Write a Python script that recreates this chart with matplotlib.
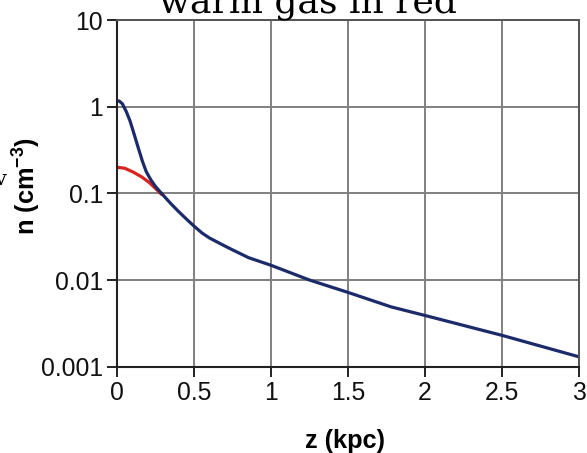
import matplotlib.pyplot as plt
from matplotlib.ticker import FixedLocator, NullLocator

# data
z_warm = [0.0, 0.05, 0.105, 0.16, 0.21, 0.25, 0.29]
n_warm = [0.20, 0.195, 0.176, 0.155, 0.133, 0.114, 0.097]

z_total = [0.0, 0.015, 0.035, 0.06, 0.084, 0.11, 0.137, 0.165, 0.19, 0.22, 0.25,
           0.298, 0.35, 0.4, 0.45, 0.5, 0.553, 0.6, 0.683, 0.75, 0.855, 1.0, 1.25,
           1.5, 1.78, 2.0, 2.5, 3.0]
n_total = [1.17, 1.16, 1.08, 0.88, 0.69, 0.49, 0.34, 0.235, 0.178, 0.143, 0.12,
           0.096, 0.076, 0.0617, 0.0507, 0.0419, 0.0348, 0.0306, 0.0256, 0.0223, 0.0181,
           0.0148, 0.010, 0.0072, 0.0049, 0.0039, 0.0023, 0.0013]

x_ticks = [0, 0.5, 1, 1.5, 2, 2.5, 3]
x_labels = ["0", "0.5", "1", "1.5", "2", "2.5", "3"]
y_ticks = [0.001, 0.01, 0.1, 1, 10]
y_labels = ["0.001", "0.01", "0.1", "1", "10"]

plt.rcParams['font.family'] = ['Liberation Sans', 'DejaVu Sans']
plt.rcParams['mathtext.fontset'] = 'custom'
plt.rcParams['mathtext.rm'] = 'Liberation Sans'
plt.rcParams['mathtext.bf'] = 'Liberation Sans:bold'

fig = plt.figure(figsize=(5.87, 4.53), dpi=100)
ax = fig.add_axes([0.1993, 0.1905, 0.9864 - 0.1993, 0.9558 - 0.1905])

ax.plot(z_warm, n_warm, color="#d9231d", lw=2.3, solid_capstyle="round")
ax.plot(z_total, n_total, color="#1b2a6b", lw=2.3, solid_capstyle="round")

ax.set_yscale("log")
ax.set_xlim(0, 3)
ax.set_ylim(0.001, 10)
ax.xaxis.set_major_locator(FixedLocator(x_ticks))
ax.set_xticklabels(x_labels)
ax.yaxis.set_major_locator(FixedLocator(y_ticks))
ax.set_yticklabels(y_labels)
ax.yaxis.set_minor_locator(NullLocator())

ax.grid(True, color="#808080", lw=1.4)
ax.set_axisbelow(True)
ax.tick_params(direction="out", length=7, width=1.3, labelsize=17.8, pad=3, colors="#111111")
for side in ["left", "bottom"]:
    ax.spines[side].set_linewidth(1.5)
    ax.spines[side].set_color("#222222")
for side in ["top", "right"]:
    ax.spines[side].set_linewidth(1.4)
    ax.spines[side].set_color("#555555")

ax.set_xlabel("z (kpc)", fontsize=18.3, fontweight="bold")
ax.set_ylabel(r"n (cm$^{\mathbf{-3}}$)", fontsize=18.3, fontweight="bold")
ax.xaxis.set_label_coords(0.494, -0.179)
ax.yaxis.set_label_coords(-0.16, 0.52)

# cut-off text at the top and left edge of the original image
fig.text(308 / 587, 1 - 12.7 / 453, "warm gas in red", family="DejaVu Serif",
         fontsize=26, ha="center", va="baseline")
fig.text(-0.008, 1 - 185 / 453, "v", family="DejaVu Serif", fontsize=15,
         ha="left", va="baseline")

plt.savefig("out.png", dpi=100)
plt.close()
